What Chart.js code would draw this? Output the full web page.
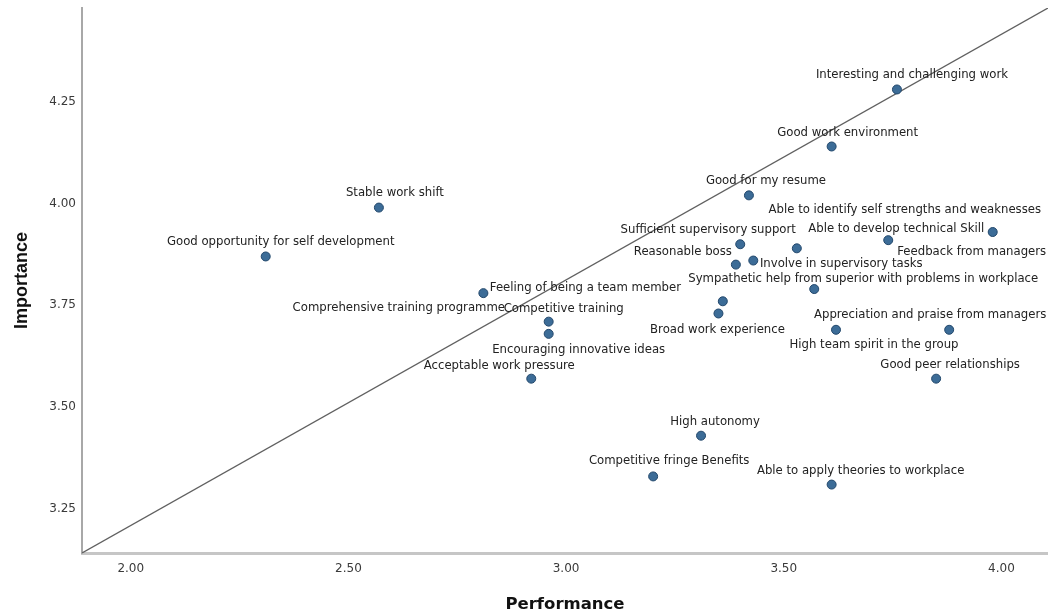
<!DOCTYPE html>
<html>
<head>
<meta charset="utf-8">
<script src="https://cdn.jsdelivr.net/npm/chart.js@4.4.1/dist/chart.umd.min.js"></script>
<style>
  html, body { margin: 0; padding: 0; background: #ffffff; overflow: hidden; }
  canvas { display: block; }
</style>
</head>
<body>
<canvas id="c" width="1048" height="616" style="width:1048px;height:616px"></canvas>
<script>
// ---- data ----
const itemNames = [
  "Interesting and challenging work",
  "Good work environment",
  "Good for my resume",
  "Stable work shift",
  "Good opportunity for self development",
  "Feedback from managers",
  "Able to develop technical Skill",
  "Able to identify self strengths and weaknesses",
  "Sufficient supervisory support",
  "Reasonable boss",
  "Involve in supervisory tasks",
  "Sympathetic help from superior with problems in workplace",
  "Comprehensive training programme",
  "Broad work experience",
  "Feeling of being a team member",
  "Competitive training",
  "Encouraging innovative ideas",
  "High team spirit in the group",
  "Appreciation and praise from managers",
  "Good peer relationships",
  "Acceptable work pressure",
  "High autonomy",
  "Competitive fringe Benefits",
  "Able to apply theories to workplace"
];
const performance = [3.76, 3.61, 3.42, 2.57, 2.31, 3.98, 3.74, 3.53, 3.40, 3.39, 3.43, 3.57,
                     3.36, 3.35, 2.81, 2.96, 2.96, 3.62, 3.88, 3.85, 2.92, 3.31, 3.20, 3.61];
const importance  = [4.28, 4.14, 4.02, 3.99, 3.87, 3.93, 3.91, 3.89, 3.90, 3.85, 3.86, 3.79,
                     3.76, 3.73, 3.78, 3.71, 3.68, 3.69, 3.69, 3.57, 3.57, 3.43, 3.33, 3.31];
const refLineX = [1.888, 4.107];
const refLineY = [3.142, 4.480];
const xTickValues = [2.00, 2.50, 3.00, 3.50, 4.00];
const yTickValues = [3.25, 3.50, 3.75, 4.00, 4.25];
const xTitle = "Performance";
const yTitle = "Importance";

// ---- label placement (style only: pixel offsets of each label centre from its point) ----
const labelOffsets = [
  [15, -15], [16, -14], [17, -14], [16, -15], [15, -15], [-21, 20], [8, -11], [108, -38],
  [-32, -14], [-53, -13], [88, 3], [49, -10], [-324, 7], [-1, 16], [102, -5], [15, -13],
  [30, 16], [38, 15], [-19, -15], [14, -14], [-32, -13], [14, -14], [16, -15], [29, -14]
];

const points = performance.map((x, i) => ({ x: x, y: importance[i] }));
const linePts = refLineX.map((x, i) => ({ x: x, y: refLineY[i] }));

const labelPlugin = {
  id: 'pointLabels',
  afterDatasetsDraw(chart) {
    const meta = chart.getDatasetMeta(1);
    const ctx = chart.ctx;
    ctx.save();
    ctx.font = '11.7px "DejaVu Sans"';
    ctx.fillStyle = '#222222';
    ctx.textAlign = 'center';
    ctx.textBaseline = 'middle';
    meta.data.forEach((el, i) => {
      const off = labelOffsets[i];
      ctx.fillText(itemNames[i], el.x + off[0], el.y + off[1]);
    });
    ctx.restore();
  }
};

new Chart(document.getElementById('c'), {
  type: 'scatter',
  data: {
    datasets: [
      {
        type: 'line',
        data: linePts,
        borderColor: '#606060',
        borderWidth: 1.3,
        pointRadius: 0,
        fill: false,
        order: 2
      },
      {
        data: points,
        backgroundColor: '#3c6c97',
        borderColor: '#22476b',
        borderWidth: 1,
        pointRadius: 4.5,
        order: 1
      }
    ]
  },
  options: {
    responsive: false,
    animation: false,
    events: [],
    layout: { autoPadding: false, padding: { top: 8, right: 0, left: 0, bottom: 0 } },
    plugins: { legend: { display: false }, tooltip: { enabled: false } },
    scales: {
      x: {
        type: 'linear',
        min: refLineX[0],
        max: refLineX[1],
        afterBuildTicks: (s) => { s.ticks = xTickValues.map(v => ({ value: v })); },
        afterFit: (s) => { s.height = 63; s.paddingLeft = 0; s.paddingRight = 0; },
        grid: { display: false, drawTicks: false },
        border: { display: true, color: '#c6c6c6', width: 3 },
        ticks: {
          padding: 9,
          color: '#3a3a3a',
          font: { family: 'DejaVu Sans', size: 12 },
          maxRotation: 0,
          callback: (v) => Number(v).toFixed(2)
        },
        title: {
          display: true,
          text: xTitle,
          color: '#111111',
          font: { family: 'DejaVu Sans', size: 16.5, weight: 'bold' },
          padding: { top: 0, bottom: 1 }
        }
      },
      y: {
        type: 'linear',
        min: refLineY[0],
        max: refLineY[1],
        afterBuildTicks: (s) => { s.ticks = yTickValues.map(v => ({ value: v })); },
        afterFit: (s) => { s.width = 82; s.paddingTop = 0; s.paddingBottom = 0; },
        grid: { display: false, drawTicks: false },
        border: { display: true, color: '#a8a8a8', width: 2 },
        ticks: {
          padding: 6,
          color: '#3a3a3a',
          font: { family: 'DejaVu Sans', size: 12 },
          callback: (v) => Number(v).toFixed(2)
        },
        title: {
          display: true,
          text: yTitle,
          color: '#111111',
          font: { family: 'Liberation Sans', size: 18, weight: 'bold' },
          padding: { top: 11, bottom: 0 }
        }
      }
    }
  },
  plugins: [labelPlugin]
});
</script>
</body>
</html>
